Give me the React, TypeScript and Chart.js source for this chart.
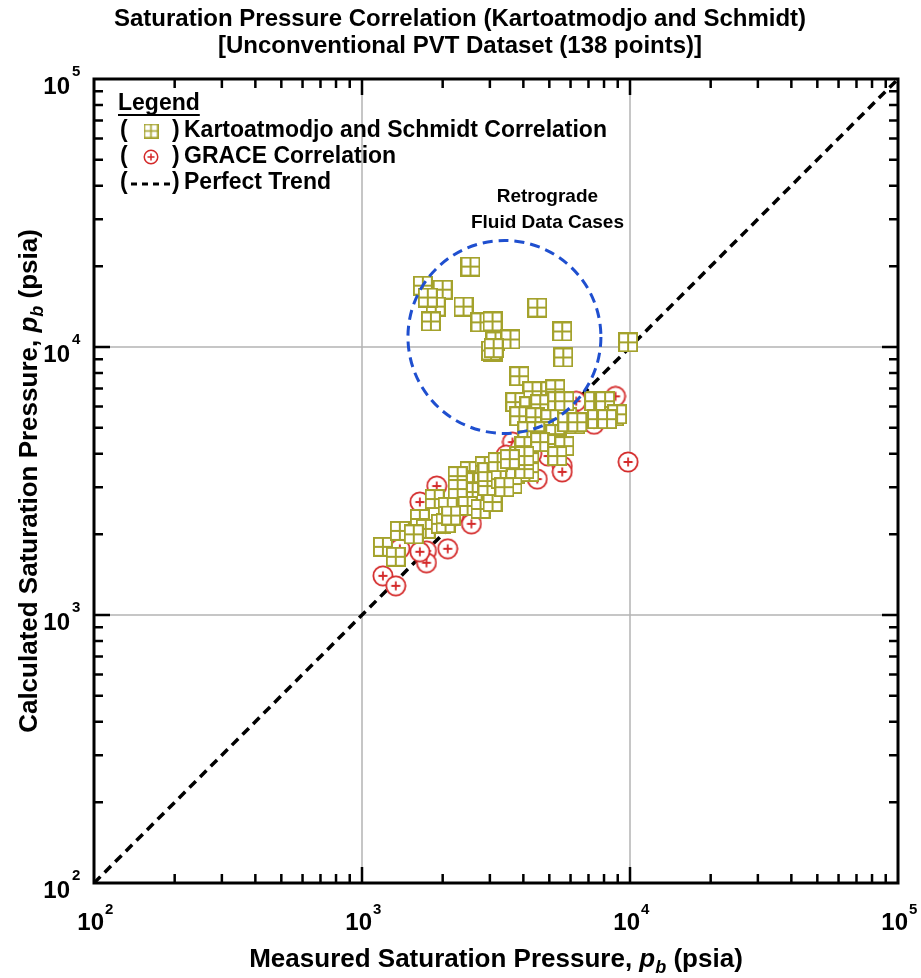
import { useEffect, useRef } from 'react';
import { Chart, registerables } from 'chart.js';

Chart.register(...registerables);

// ---------------- data ----------------
const ksMeasured = [
  2540, 1687, 2000, 1884, 1808, 2393, 2767, 3069, 3148, 3581, 3069, 3030, 3100, 4508, 5585, 5636, 9836, 1760,
  3865, 4325, 5046, 5260, 3734, 4214, 4624, 5355, 3865, 4436, 5046, 5834, 6252, 4140, 4786, 5260, 4036, 4624, 5355, 5688, 3865, 4214, 5355,
  7345, 8072, 8724, 7535, 5688, 5834, 6357, 8951, 8207,
  2520, 2870, 3289, 3734, 4214, 2400, 2830, 3240, 3642, 3069,
  1197, 1337, 1384, 1644, 1729, 1968, 1868, 2089, 2050, 2275, 2587, 2275, 2477, 2769, 3069, 2939, 2939, 3289, 3734, 4036, 4036, 3206, 3560, 2150, 1560, 3400,
];
const ksCalculated = [
  19950, 16940, 16370, 14150, 12450, 14150, 12360, 12450, 10490, 10670, 9550, 9700, 9900, 14030, 11430, 9140, 10410, 15300,
  7780, 6838, 6838, 6950, 6230, 6011, 6113, 6277, 5517, 5470, 5381, 5470, 5152, 4851, 4851, 4731, 4268, 4417, 4345, 4268, 3918, 3721, 3918,
  6277, 6277, 5517, 5381, 6277, 5240, 5240, 5610, 5381,
  3443, 3596, 3414, 3357, 3414, 3133, 3133, 3133, 3081, 2876,
  1796, 1649, 2060, 2282, 2095, 2188, 2709, 2531, 2200, 3299, 2876, 2951, 2552, 2487, 2640, 3028, 3414, 3215, 3502, 3502, 3918, 3721, 3818, 2350, 2000, 3000,
];
const graceMeasured = [
  8830, 6300, 7345, 9836, 5585, 5585, 4508, 1900, 1644, 1197, 1337, 1740, 1740, 2089, 1644, 1384, 2560, 3642, 4950, 3450,
  3000, 3300, 2500, 4000, 4300, 5000, 2200, 2700, 3600, 4700, 5200, 6000, 3900, 2400,
];
const graceCalculated = [
  6546, 6277, 5152, 3724, 3596, 3420, 3215, 3028, 2640, 1400, 1285, 1735, 1566, 1766, 1721, 1766, 2188, 4417, 3918, 3950,
  2950, 3150, 2650, 3650, 4000, 4500, 2350, 2900, 3300, 5000, 5200, 5450, 4200, 2800,
];
const perfectTrend = [100, 100000];

const axisMin = 100;
const axisMax = 100000;
const majorTicks = [100, 1000, 10000, 100000];
const tickBase = '10';
const tickExponents = ['2', '3', '4', '5'];
const minorMultipliers = [2, 3, 4, 5, 6, 7, 8, 9];

const titleLines = [
  'Saturation Pressure Correlation (Kartoatmodjo and Schmidt)',
  '[Unconventional PVT Dataset (138 points)]',
];
const xTitleParts = ['Measured Saturation Pressure, ', 'p', 'b', ' (psia)'];
const yTitleParts = ['Calculated Saturation Pressure, ', 'p', 'b', ' (psia)'];
const legendTitle = 'Legend';
const legendLabels = ['Kartoatmodjo and Schmidt Correlation', 'GRACE Correlation', 'Perfect Trend'];
const annotationLines = ['Retrograde', 'Fluid Data Cases'];
const retrogradeCenter = { x: 3400, y: 10900 };
const retrogradeRadiusDecades = 0.36;

// ---------------- styles ----------------
const FONT = '"Liberation Sans", Arial, Helvetica, sans-serif';
const OLIVE = '#a4a22c';
const RED = '#d42a2a';
const BLUE = '#1f4fcf';

function makeSquare(size: number, color: string, lw: number) {
  const c = document.createElement('canvas');
  c.width = size;
  c.height = size;
  const g = c.getContext('2d')!;
  const h = lw / 2;
  g.fillStyle = '#ffffff';
  g.fillRect(h, h, size - lw, size - lw);
  g.strokeStyle = color;
  g.lineWidth = lw;
  g.strokeRect(h, h, size - lw, size - lw);
  g.beginPath();
  g.moveTo(size / 2, h);
  g.lineTo(size / 2, size - h);
  g.moveTo(h, size / 2);
  g.lineTo(size - h, size / 2);
  g.stroke();
  return c;
}

function makeCircle(size: number, color: string, lw: number, plus: number) {
  const c = document.createElement('canvas');
  c.width = size;
  c.height = size;
  const g = c.getContext('2d')!;
  const r = size / 2 - lw / 2 - 0.5;
  g.fillStyle = '#ffffff';
  g.strokeStyle = color;
  g.lineWidth = lw;
  g.beginPath();
  g.arc(size / 2, size / 2, r, 0, Math.PI * 2);
  g.fill();
  g.stroke();
  g.beginPath();
  g.moveTo(size / 2 - plus, size / 2);
  g.lineTo(size / 2 + plus, size / 2);
  g.moveTo(size / 2, size / 2 - plus);
  g.lineTo(size / 2, size / 2 + plus);
  g.stroke();
  return c;
}

type Seg = { t: string; f: string; dy?: number };
function segWidth(ctx: CanvasRenderingContext2D, segs: Seg[]) {
  let w = 0;
  for (const s of segs) {
    ctx.font = s.f;
    w += ctx.measureText(s.t).width;
  }
  return w;
}
function drawSegs(ctx: CanvasRenderingContext2D, segs: Seg[], cx: number, baseline: number) {
  const w = segWidth(ctx, segs);
  let x = cx - w / 2;
  ctx.textAlign = 'left';
  ctx.textBaseline = 'alphabetic';
  for (const s of segs) {
    ctx.font = s.f;
    ctx.fillText(s.t, x, baseline + (s.dy || 0));
    x += ctx.measureText(s.t).width;
  }
}
function titleSegs(parts: string[]): Seg[] {
  return [
    { t: parts[0], f: `bold 26px ${FONT}` },
    { t: parts[1], f: `italic bold 26px ${FONT}` },
    { t: parts[2], f: `italic bold 18px ${FONT}`, dy: 6 },
    { t: parts[3], f: `bold 26px ${FONT}` },
  ];
}

export default function App() {
  const ref = useRef<HTMLCanvasElement>(null);

  useEffect(() => {
    document.body.style.margin = '0';
    document.body.style.overflow = 'hidden';
    const canvas = ref.current!;
    const sqImg = makeSquare(20, OLIVE, 2);
    const ciImg = makeCircle(22, RED, 1.8, 4.5);
    const sqLegend = makeSquare(15, OLIVE, 1.6);
    const ciLegend = makeCircle(16, RED, 1.5, 3.5);

    const decor = {
      id: 'decor',
      beforeDatasetsDraw(chart: any) {
        const { ctx, chartArea: a, scales } = chart;
        const xs = scales.x;
        const ys = scales.y;
        ctx.save();
        ctx.strokeStyle = '#b3b3b3';
        ctx.lineWidth = 1.5;
        for (const v of majorTicks) {
          if (v <= axisMin || v >= axisMax) continue;
          const px = xs.getPixelForValue(v);
          ctx.beginPath();
          ctx.moveTo(px, a.top);
          ctx.lineTo(px, a.bottom);
          ctx.stroke();
          const py = ys.getPixelForValue(v);
          ctx.beginPath();
          ctx.moveTo(a.left, py);
          ctx.lineTo(a.right, py);
          ctx.stroke();
        }
        ctx.restore();
      },
      afterDatasetsDraw(chart: any) {
        const { ctx, chartArea: a, scales } = chart;
        const xs = scales.x;
        const ys = scales.y;
        ctx.save();

        // retrograde circle
        const cx = xs.getPixelForValue(retrogradeCenter.x);
        const cy = ys.getPixelForValue(retrogradeCenter.y);
        const decadePx = xs.getPixelForValue(1000) - xs.getPixelForValue(100);
        const r = retrogradeRadiusDecades * decadePx;
        ctx.strokeStyle = BLUE;
        ctx.lineWidth = 3;
        ctx.setLineDash([10, 6]);
        ctx.beginPath();
        ctx.arc(cx, cy, r, 0, Math.PI * 2);
        ctx.stroke();
        ctx.setLineDash([]);

        // frame
        ctx.strokeStyle = '#000';
        ctx.lineWidth = 3;
        ctx.strokeRect(a.left, a.top, a.right - a.left, a.bottom - a.top);

        // ticks (inward)
        ctx.lineWidth = 2.5;
        const drawTick = (v: number, len: number) => {
          const px = xs.getPixelForValue(v);
          const py = ys.getPixelForValue(v);
          ctx.beginPath();
          ctx.moveTo(px, a.bottom);
          ctx.lineTo(px, a.bottom - len);
          ctx.moveTo(px, a.top);
          ctx.lineTo(px, a.top + len);
          ctx.moveTo(a.left, py);
          ctx.lineTo(a.left + len, py);
          ctx.moveTo(a.right, py);
          ctx.lineTo(a.right - len, py);
          ctx.stroke();
        };
        for (let i = 0; i < majorTicks.length - 1; i++) {
          if (i > 0) drawTick(majorTicks[i], 16);
          for (const m of minorMultipliers) drawTick(majorTicks[i] * m, 9);
        }

        // tick labels
        ctx.fillStyle = '#000';
        majorTicks.forEach((v, i) => {
          const px = xs.getPixelForValue(v);
          const py = ys.getPixelForValue(v);
          ctx.textBaseline = 'alphabetic';
          // x axis
          ctx.font = `bold 24px ${FONT}`;
          ctx.textAlign = 'right';
          ctx.fillText(tickBase, px + 10, a.bottom + 47);
          ctx.font = `bold 15px ${FONT}`;
          ctx.textAlign = 'left';
          ctx.fillText(tickExponents[i], px + 11, a.bottom + 31);
          // y axis
          ctx.font = `bold 24px ${FONT}`;
          ctx.textAlign = 'right';
          ctx.fillText(tickBase, a.left - 24, py + 15);
          ctx.font = `bold 15px ${FONT}`;
          ctx.textAlign = 'left';
          ctx.fillText(tickExponents[i], a.left - 22, py - 3);
        });

        // axis titles
        drawSegs(ctx, titleSegs(xTitleParts), (a.left + a.right) / 2, 967);
        ctx.save();
        ctx.translate(37, (a.top + a.bottom) / 2);
        ctx.rotate(-Math.PI / 2);
        drawSegs(ctx, titleSegs(yTitleParts), 0, 0);
        ctx.restore();

        // chart title
        ctx.font = `bold 24px ${FONT}`;
        ctx.textAlign = 'center';
        ctx.textBaseline = 'middle';
        ctx.fillText(titleLines[0], 460, 19);
        ctx.fillText(titleLines[1], 460, 46);

        // legend
        const lx = a.left + 24;
        const rows = [a.top + 52, a.top + 78, a.top + 104];
        ctx.font = `bold 23px ${FONT}`;
        ctx.textAlign = 'left';
        ctx.textBaseline = 'middle';
        ctx.fillText(legendTitle, lx, a.top + 25);
        const lw = ctx.measureText(legendTitle).width;
        ctx.fillRect(lx, a.top + 35, lw, 2);
        rows.forEach((y, i) => {
          ctx.fillText('(', lx + 2, y);
          ctx.fillText(')', lx + 54, y);
          ctx.fillText(legendLabels[i], lx + 66, y);
        });
        ctx.drawImage(sqLegend, lx + 33 - sqLegend.width / 2, rows[0] - sqLegend.height / 2);
        ctx.drawImage(ciLegend, lx + 33 - ciLegend.width / 2, rows[1] - ciLegend.height / 2);
        ctx.strokeStyle = '#000';
        ctx.lineWidth = 3;
        ctx.setLineDash([6, 5]);
        ctx.beginPath();
        ctx.moveTo(lx + 13, rows[2] + 1);
        ctx.lineTo(lx + 52, rows[2] + 1);
        ctx.stroke();
        ctx.setLineDash([]);

        // annotation
        ctx.font = `bold 19px ${FONT}`;
        ctx.textAlign = 'center';
        ctx.fillText(annotationLines[0], cx + 43, cy - r - 44);
        ctx.fillText(annotationLines[1], cx + 43, cy - r - 18);

        ctx.restore();
      },
    };

    const chart = new Chart(canvas, {
      type: 'scatter',
      data: {
        datasets: [
          {
            label: legendLabels[0],
            data: ksMeasured.map((x, i) => ({ x, y: ksCalculated[i] })),
            pointStyle: sqImg as any,
            pointRadius: 9,
            pointHoverRadius: 9,
          },
          {
            label: legendLabels[1],
            data: graceMeasured.map((x, i) => ({ x, y: graceCalculated[i] })),
            pointStyle: ciImg as any,
            pointRadius: 9,
            pointHoverRadius: 9,
          },
          {
            label: legendLabels[2],
            type: 'line' as any,
            data: perfectTrend.map((v) => ({ x: v, y: v })),
            borderColor: '#000',
            borderWidth: 3.5,
            borderDash: [9, 6],
            pointRadius: 0,
            showLine: true,
            fill: false,
          } as any,
        ],
      },
      options: {
        responsive: false,
        animation: false,
        devicePixelRatio: 1,
        events: [],
        layout: { padding: { left: 94, top: 79, right: 23, bottom: 95 } },
        plugins: { legend: { display: false }, tooltip: { enabled: false }, title: { display: false } },
        scales: {
          x: { type: 'logarithmic', min: axisMin, max: axisMax, display: false },
          y: { type: 'logarithmic', min: axisMin, max: axisMax, display: false },
        },
      },
      plugins: [decor],
    });
    return () => chart.destroy();
  }, []);

  return <canvas ref={ref} width={921} height={978} style={{ display: 'block', width: 921, height: 978 }} />;
}
